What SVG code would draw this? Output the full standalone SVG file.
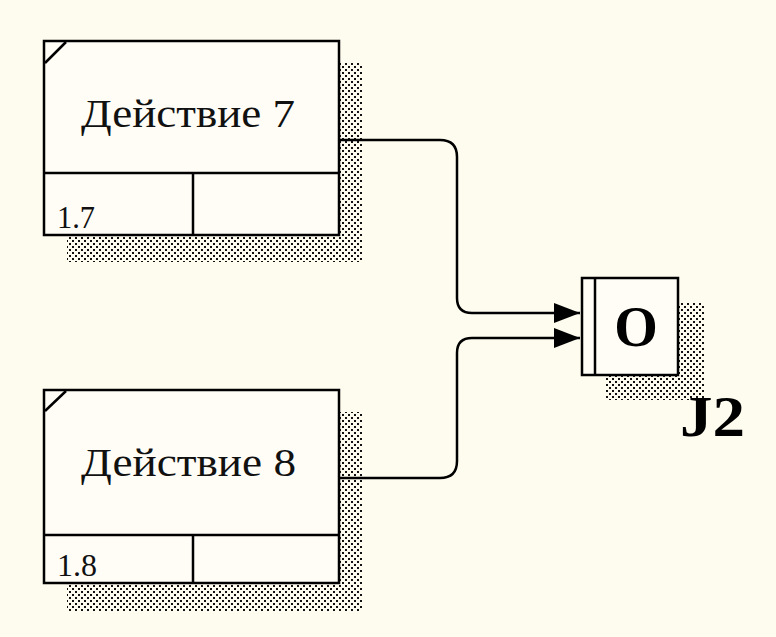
<svg xmlns="http://www.w3.org/2000/svg" width="776" height="637" viewBox="0 0 776 637">
<style>
.box{fill:#FFFDF6;stroke:#000;stroke-width:2.5}
.ln{fill:none;stroke:#000;stroke-width:2.5}
.shadow{fill:url(#dots)}
.lbl{font-family:"Liberation Serif",serif;font-size:40px;fill:#111}
.num{font-family:"Liberation Serif",serif;font-size:31px;fill:#111}
.bold{font-family:"Liberation Serif",serif;font-weight:bold;fill:#000}
</style>
<defs>
<pattern id="dots" width="6" height="6" patternUnits="userSpaceOnUse">
<rect x="0" y="0" width="2" height="2" fill="#111"/>
<rect x="3" y="3" width="2" height="2" fill="#111"/>
</pattern>
<marker id="arr" markerWidth="28" markerHeight="22" refX="26" refY="11" orient="auto" markerUnits="userSpaceOnUse">
<path d="M0,1 L26,11 L0,21 Z" fill="#000"/>
</marker>
</defs>
<rect x="0" y="0" width="776" height="637" fill="#FEFBEF"/>

<g id="node-d7">
<rect class="shadow" x="67" y="63" width="296" height="199"/>
<rect class="box" x="44" y="41" width="295" height="194"/>
<line class="ln" x1="44" y1="173" x2="339" y2="173"/>
<line class="ln" x1="193" y1="173" x2="193" y2="235"/>
<line class="ln" x1="45" y1="63" x2="66" y2="42" stroke-width="1.5"/>
<text class="lbl" x="81" y="127" textLength="214" lengthAdjust="spacingAndGlyphs">Действие 7</text>
<text class="num" x="57" y="228" textLength="38" lengthAdjust="spacingAndGlyphs">1.7</text>
</g>

<g id="node-d8">
<rect class="shadow" x="67" y="412" width="296" height="200"/>
<rect class="box" x="44" y="390" width="295" height="193"/>
<line class="ln" x1="44" y1="535" x2="339" y2="535"/>
<line class="ln" x1="193" y1="535" x2="193" y2="583"/>
<line class="ln" x1="45" y1="411" x2="66" y2="391" stroke-width="1.5"/>
<text class="lbl" x="81" y="476" textLength="215" lengthAdjust="spacingAndGlyphs">Действие 8</text>
<text class="num" x="57" y="576" textLength="40" lengthAdjust="spacingAndGlyphs">1.8</text>
</g>

<g id="node-j2">
<rect class="shadow" x="605" y="302" width="100" height="98"/>
<rect class="box" x="582" y="278" width="96" height="97"/>
<line class="ln" x1="595" y1="278" x2="595" y2="375"/>
<text class="bold" x="636" y="346" font-size="56" text-anchor="middle">O</text>
<text class="bold" x="680" y="436" font-size="56" textLength="65" lengthAdjust="spacingAndGlyphs">J2</text>
</g>

<g id="connectors">
<path class="ln" d="M339,140 H440 Q457,140 457,157 V298 Q457,313 472,313 H580" marker-end="url(#arr)"/>
<path class="ln" d="M339,478 H440 Q457,478 457,461 V353 Q457,338 472,338 H580" marker-end="url(#arr)"/>
</g>
</svg>
